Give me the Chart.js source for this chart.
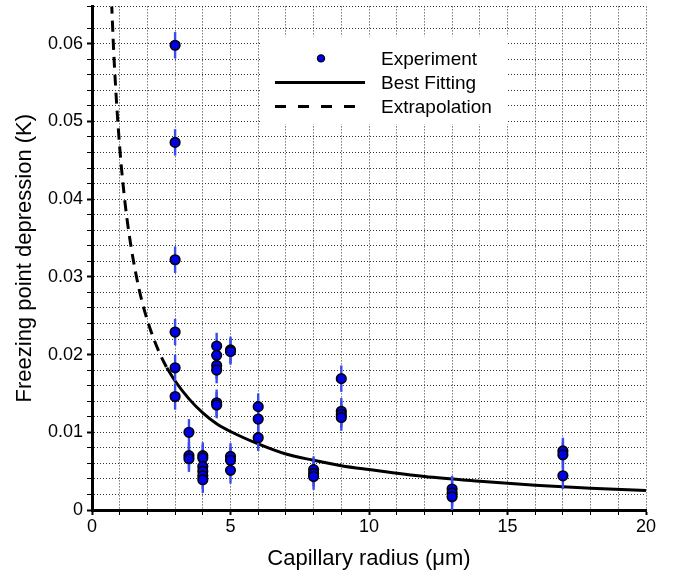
<!DOCTYPE html>
<html>
<head>
<meta charset="utf-8">
<script src="https://cdn.jsdelivr.net/npm/chart.js@4.4.0/dist/chart.umd.min.js"></script>
<style>
  html, body { margin: 0; padding: 0; background: #fff; }
  #wrap { width: 674px; height: 576px; }
</style>
</head>
<body>
<div id="wrap"><canvas id="freezeChart" width="674" height="576"></canvas></div>
<script>
// measured points (capillary radius in um, depression in K)
const expX = [3, 3, 3, 3, 3, 3,
  3.5, 3.5, 3.5,
  4, 4, 4, 4, 4, 4,
  4.5, 4.5, 4.5, 4.5, 4.5, 4.5,
  5, 5, 5, 5, 5,
  6, 6, 6,
  8, 8, 8,
  9, 9, 9, 9,
  13, 13, 13,
  17, 17, 17];
const expY = [0.0598, 0.0473, 0.0322, 0.0229, 0.0183, 0.0146,
  0.0100, 0.0070, 0.0066,
  0.0070, 0.0067, 0.0056, 0.0050, 0.0044, 0.0039,
  0.0211, 0.0199, 0.0186, 0.0180, 0.0138, 0.0135,
  0.0206, 0.0204, 0.0069, 0.0064, 0.0051,
  0.0133, 0.0117, 0.0093,
  0.0052, 0.0047, 0.0043,
  0.0169, 0.0127, 0.0123, 0.0119,
  0.0027, 0.0022, 0.0017,
  0.0076, 0.0071, 0.0044];
const expErr = 0.0017;

// best fitting curve
const fitX = [2.7, 3, 3.5, 4, 4.5, 5, 6, 7, 8, 9, 10, 12, 14, 16, 18, 20];
const fitY = [0.0183, 0.0166, 0.0143, 0.0125, 0.0111, 0.0101, 0.0085, 0.0072,
  0.0064, 0.0057, 0.0052, 0.0043, 0.0037, 0.0032, 0.0028, 0.0025];

// extrapolated part
const extX = [0.68, 0.8, 1.0, 1.2, 1.4, 1.6, 1.8, 2.0, 2.2, 2.45, 2.7];
const extY = [0.0676, 0.0578, 0.0467, 0.0393, 0.0341, 0.0301, 0.0269, 0.0244,
  0.0223, 0.0201, 0.0183];

const legendLabels = ['Experiment', 'Best Fitting', 'Extrapolation'];
const xTitle = 'Capillary radius (\u03bcm)';
const yTitle = 'Freezing point depression (K)';

const FONT = "'Liberation Sans', Arial, Helvetica, sans-serif";
const toPts = (xs, ys) => xs.map((x, i) => ({ x: x, y: ys[i] }));

// vertical error bars under the experiment markers
const errorBars = {
  id: 'errorBars',
  beforeDatasetDraw(chart, args) {
    if (args.index !== 0) return;
    const ctx = chart.ctx;
    const xs = chart.scales.x, ys = chart.scales.y;
    ctx.save();
    ctx.strokeStyle = '#3a4cf0';
    ctx.lineWidth = 2.4;
    expX.forEach((x, i) => {
      const px = xs.getPixelForValue(x);
      ctx.beginPath();
      ctx.moveTo(px, ys.getPixelForValue(expY[i] - expErr));
      ctx.lineTo(px, ys.getPixelForValue(expY[i] + expErr));
      ctx.stroke();
    });
    ctx.restore();
  }
};

// legend box inside the plot
const boxLegend = {
  id: 'boxLegend',
  beforeDatasetsDraw(chart) {
    const ctx = chart.ctx;
    const a = chart.chartArea;
    const left = a.left + 170, top = a.top + 30;
    ctx.save();
    ctx.fillStyle = '#fff';
    ctx.fillRect(left, top, 246, 88);
    const rowY = [top + 22, top + 46, top + 70];
    // marker
    ctx.beginPath();
    ctx.arc(left + 59, rowY[0], 3.6, 0, Math.PI * 2);
    ctx.fillStyle = '#0000e6';
    ctx.fill();
    ctx.lineWidth = 1.2;
    ctx.strokeStyle = '#000';
    ctx.stroke();
    // solid line
    ctx.lineWidth = 3;
    ctx.beginPath();
    ctx.moveTo(left + 13, rowY[1]);
    ctx.lineTo(left + 103, rowY[1]);
    ctx.stroke();
    // dashed line
    ctx.setLineDash([11, 12]);
    ctx.beginPath();
    ctx.moveTo(left + 13, rowY[2]);
    ctx.lineTo(left + 103, rowY[2]);
    ctx.stroke();
    ctx.setLineDash([]);
    ctx.fillStyle = '#000';
    ctx.font = '19px ' + FONT;
    ctx.textBaseline = 'middle';
    legendLabels.forEach((t, i) => ctx.fillText(t, left + 119, rowY[i] + 1));
    ctx.restore();
  }
};

const isMult = (v, step) => Math.abs(v / step - Math.round(v / step)) < 1e-6;

const chartConfig = {
  type: 'scatter',
  data: {
    datasets: [
      {
        label: legendLabels[0],
        data: toPts(expX, expY),
        order: 0,
        pointRadius: 4.8,
        pointBackgroundColor: '#0000e6',
        pointBorderColor: '#000',
        pointBorderWidth: 1.6
      },
      {
        label: legendLabels[1],
        data: toPts(fitX, fitY),
        order: 1,
        showLine: true,
        pointRadius: 0,
        borderColor: '#000',
        borderWidth: 3,
        cubicInterpolationMode: 'monotone'
      },
      {
        label: legendLabels[2],
        data: toPts(extX, extY),
        order: 2,
        showLine: true,
        pointRadius: 0,
        borderColor: '#000',
        borderWidth: 3,
        borderDash: [11, 7],
        cubicInterpolationMode: 'monotone'
      }
    ]
  },
  options: {
    responsive: false,
    animation: false,
    events: [],
    layout: { padding: { top: 0, right: 28, left: 0, bottom: 0 } },
    plugins: {
      legend: { display: false },
      tooltip: { enabled: false }
    },
    scales: {
      x: {
        type: 'linear',
        min: 0,
        max: 20,
        afterFit: (s) => { s.height = 66; },
        ticks: {
          stepSize: 1,
          autoSkip: false,
          maxRotation: 0,
          padding: 1,
          color: '#000',
          font: { family: FONT, size: 18 },
          callback: (v) => (isMult(v, 5) ? String(v) : '')
        },
        grid: {
          color: '#333',
          lineWidth: 1,
          tickLength: 5,
          tickColor: '#000',
          tickBorderDash: [],
          tickWidth: (c) => (c.tick && isMult(c.tick.value, 5) ? 2 : 1)
        },
        border: { color: '#000', width: 3, dash: [1, 2] },
        title: {
          display: true,
          text: xTitle,
          color: '#000',
          font: { family: FONT, size: 22 },
          padding: { top: 0, bottom: 4 }
        }
      },
      y: {
        type: 'linear',
        min: 0,
        max: 0.0648,
        afterFit: (s) => { s.width = 92; s.paddingTop = 0; s.paddingBottom = 0; },
        ticks: {
          stepSize: 0.002,
          autoSkip: false,
          padding: 4,
          color: '#000',
          font: { family: FONT, size: 18 },
          callback: (v) => {
            if (!isMult(v, 0.01)) return '';
            return v === 0 ? '0' : (Math.round(v * 100) / 100).toFixed(2);
          }
        },
        grid: {
          color: '#333',
          lineWidth: 1,
          tickLength: 5,
          tickColor: '#000',
          tickBorderDash: [],
          tickWidth: (c) => (c.tick && isMult(c.tick.value, 0.01) ? 2 : 1)
        },
        border: { color: '#000', width: 3, dash: [1, 2] },
        title: {
          display: true,
          text: yTitle,
          color: '#000',
          font: { family: FONT, size: 22 },
          padding: { top: 12, bottom: 0 }
        }
      }
    }
  },
  plugins: [errorBars, boxLegend]
};

const ctx = document.getElementById('freezeChart').getContext('2d');
new Chart(ctx, chartConfig);
</script>
</body>
</html>
